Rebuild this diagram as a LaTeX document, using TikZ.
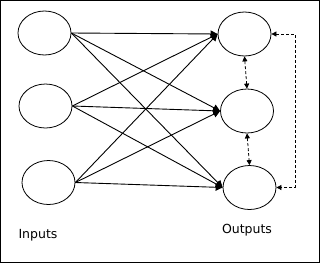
\documentclass[tikz,border=0pt]{standalone}
\usepackage{fontspec}
\setmainfont{DejaVu Sans}
\usepackage{tikz}
\usetikzlibrary{arrows.meta,shapes.geometric}

\begin{document}
\begin{tikzpicture}[x=1pt,y=-1pt,
  unit/.style={draw,ellipse,line width=0.8pt,inner sep=0pt,
               minimum width=53pt,minimum height=44pt},
  link/.style={line width=0.9pt,-{Triangle[length=7pt,width=7pt]}},
  feedback/.style={line width=0.8pt,dash pattern=on 3pt off 2pt,
                   {Triangle[length=5pt,width=5pt]}-{Triangle[length=5pt,width=5pt]}},
  caption/.style={font=\fontsize{12.5}{14}\selectfont}
]
  \useasboundingbox (0,0) rectangle (320,263);
  \draw[line width=1pt] (0.5,0.5) rectangle (319.5,262.5);

  \node[unit] (in1) at (44.5,33) {};
  \node[unit] (in2) at (45.5,106) {};
  \node[unit] (in3) at (48.5,182.5) {};

  \node[unit] (out1) at (244.5,34) {};
  \node[unit] (out2) at (247,111) {};
  \node[unit] (out3) at (249.5,187.5) {};

  % every input feeds every output
  \foreach \i in {1,2,3}
    \foreach \o in {1,2,3}
      \draw[link] (in\i.east) -- (out\o.west);

  % lateral connections among the outputs
  \draw[feedback] (out1.south) -- (out2.north);
  \draw[feedback] (out2.south) -- (out3.north);
  \coordinate (turn) at (295,34);
  \draw[feedback] (out1.east) -- (turn) |- (out3.east);

  \node[caption] (inlab) at (38,235) {Inputs};
  \node[caption] (outlab) at (247,230) {Outputs};
\end{tikzpicture}
\end{document}
